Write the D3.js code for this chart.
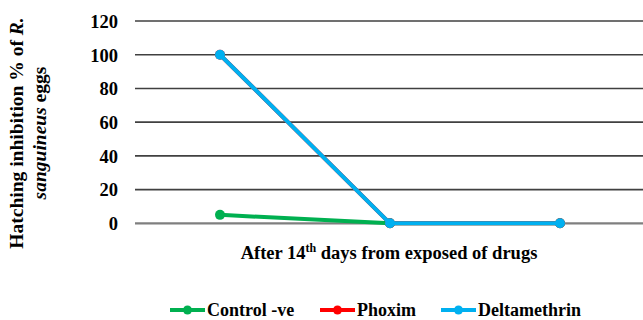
<!DOCTYPE html>
<html><head><meta charset="utf-8">
<script src="https://cdn.jsdelivr.net/npm/d3@7"></script>
<style>body{margin:0;background:#fff}svg{display:block}text{font-family:"Liberation Serif","Times New Roman",serif;font-weight:bold;fill:#000}</style>
</head><body><svg id="c" width="643" height="320"></svg>
<script>
const categories = ["P1", "P2", "P3"];
const seriesNames = ["Control -ve", "Phoxim", "Deltamethrin"];
const controlValues = [5, 0, 0];
const phoximValues = [100, 0, 0];
const deltamethrinValues = [100, 0, 0];
const yTicks = [0, 20, 40, 60, 80, 100, 120];
const colors = ["#00B050", "#FF0000", "#00B0F0"];
const series = [controlValues, phoximValues, deltamethrinValues];

const svg = d3.select("#c");
const x = d3.scaleBand().domain(categories).range([135, 645]);
const y = d3.scaleLinear().domain([0, 120]).range([223.3, 21]);

// gridlines
svg.append("g").selectAll("line").data(yTicks).join("line")
  .attr("x1", 135).attr("x2", 643)
  .attr("y1", d => y(d)).attr("y2", d => y(d))
  .attr("stroke", d => d === 0 ? "#7f7f7f" : "#404040")
  .attr("stroke-width", d => d === 0 ? 2.2 : 1.6);

// y axis labels
const yAxis = d3.axisLeft(y).tickValues(yTicks).tickSize(0).tickPadding(0);
const ya = svg.append("g").attr("transform", "translate(118,0)").call(yAxis);
ya.select(".domain").remove();
ya.selectAll("text").attr("font-size", 18.5).attr("font-family", "Liberation Serif").attr("font-weight", "bold").attr("fill", "#000").attr("dy", "0.34em");

// series
const line = d3.line().x((d, i) => x(categories[i]) + x.bandwidth() / 2).y(d => y(d));
series.forEach((vals, s) => {
  const g = svg.append("g");
  g.append("path").datum(vals).attr("d", line).attr("fill", "none")
    .attr("stroke", colors[s]).attr("stroke-width", 4).attr("stroke-linejoin", "round");
  g.selectAll("circle").data(vals).join("circle")
    .attr("cx", (d, i) => x(categories[i]) + x.bandwidth() / 2)
    .attr("cy", d => y(d)).attr("r", 5).attr("fill", colors[s]);
});

// y title
const yt = svg.append("text").attr("transform", "translate(23,133) rotate(-90)")
  .attr("text-anchor", "middle").attr("font-size", 19.5);
yt.append("tspan").attr("x", 0).attr("dy", 0).text("Hatching inhibition % of ");
yt.append("tspan").attr("font-style", "italic").text("R.");
const yt2 = svg.append("text").attr("transform", "translate(46,133) rotate(-90)")
  .attr("text-anchor", "middle").attr("font-size", 19.5);
yt2.append("tspan").attr("font-style", "italic").text("sanguineus");
yt2.append("tspan").text(" eggs");

// x title
const xt = svg.append("text").attr("x", 389).attr("y", 259).attr("text-anchor", "middle").attr("font-size", 18.5);
xt.append("tspan").text("After 14");
xt.append("tspan").attr("font-size", 12).attr("dy", -7).text("th");
xt.append("tspan").attr("dy", 7).text(" days from exposed of drugs");

// legend
const legendX = [170, 320, 441];
seriesNames.forEach((n, i) => {
  const g = svg.append("g").attr("transform", `translate(${legendX[i]},310)`);
  g.append("line").attr("x1", 0).attr("x2", 35).attr("stroke", colors[i]).attr("stroke-width", 4);
  g.append("circle").attr("cx", 17.5).attr("r", 4.5).attr("fill", colors[i]);
  g.append("text").attr("x", 37).attr("dy", "0.35em").attr("font-size", 18).text(n);
});
</script></body></html>
